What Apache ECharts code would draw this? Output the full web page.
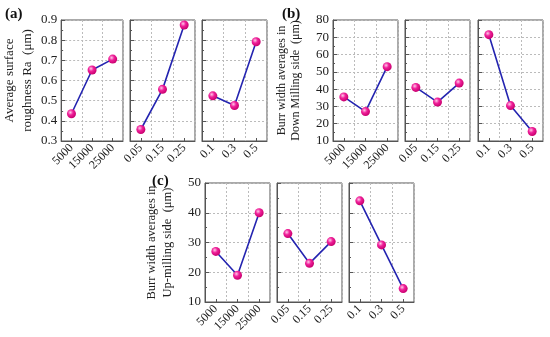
<!DOCTYPE html>
<html><head><meta charset="utf-8">
<script src="https://cdn.jsdelivr.net/npm/echarts@6/dist/echarts.min.js"></script>
<style>html,body{margin:0;padding:0;background:#fff}#c{width:550px;height:337px}</style>
</head><body><div id="c"></div>
<script>
var catsSpeed = ['5000', '15000', '25000'];
var catsFeed = ['0.05', '0.15', '0.25'];
var catsDepth = ['0.1', '0.3', '0.5'];

var raSpeed = [0.435, 0.652, 0.706];
var raFeed = [0.357, 0.556, 0.875];
var raDepth = [0.524, 0.476, 0.792];

var downSpeed = [35.5, 27.0, 53.0];
var downFeed = [41.0, 32.5, 43.5];
var downDepth = [71.5, 30.5, 15.5];

var upSpeed = [27.0, 19.0, 40.0];
var upFeed = [33.0, 23.0, 30.3];
var upDepth = [44.0, 29.2, 14.5];

var panels = [
  {label: '(a)', name: 'Average surface\nroughness Ra  (μm)', min: 0.3, max: 0.9, step: 0.1, dec: 1,
   top: 20, height: 121, lefts: [58, 130, 202], lx: 5, ly: 7, gap: 23, fs: 13, lh: 18,
   data: [raSpeed, raFeed, raDepth]},
  {label: '(b)', name: 'Burr width averages in\nDown Milling side  (μm)', min: 10, max: 80, step: 10, dec: 0,
   top: 20, height: 121, lefts: [333, 405, 478], lx: 282, ly: 7, gap: 30, fs: 12, lh: 14,
   data: [downSpeed, downFeed, downDepth]},
  {label: '(c)', name: 'Burr width averages in\nUp-milling side  (μm)', min: 10, max: 50, step: 10, dec: 0,
   top: 183, height: 119, lefts: [205, 277, 349], lx: 152, ly: 174, gap: 29, fs: 12.5, lh: 16,
   data: [upSpeed, upFeed, upDepth]}
];
var catsList = [catsSpeed, catsFeed, catsDepth];
var font = '"Liberation Serif", "Times New Roman", serif';
var grids = [], xAxes = [], yAxes = [], series = [], graphics = [];
var gi = 0;
panels.forEach(function (p) {
  graphics.push({type: 'text', left: p.lx, top: p.ly,
    style: {text: p.label, font: 'bold 15px "Liberation Serif", serif', fill: '#111'}});
  for (var k = 0; k < 3; k++) {
    grids.push({left: p.lefts[k], top: p.top, width: 65, height: p.height,
      show: true, borderColor: '#555', borderWidth: 1, backgroundColor: 'transparent'});
    xAxes.push({type: 'category', gridIndex: gi, data: catsList[k], boundaryGap: true,
      axisLine: {show: true, lineStyle: {color: '#555'}},
      axisTick: {show: true, inside: true, alignWithLabel: true, length: 3, lineStyle: {color: '#555'}},
      splitLine: {show: true, interval: 0, lineStyle: {color: '#bbb', type: [2, 2], width: 1}},
      axisLabel: {rotate: 45, fontFamily: font, fontSize: 12, color: '#222', margin: 5, interval: 0}});
    (function (pp, kk) {
      yAxes.push({type: 'value', gridIndex: gi, min: pp.min, max: pp.max, interval: pp.step,
        name: kk === 0 ? pp.name : '', nameLocation: 'middle', nameGap: pp.gap,
        nameTextStyle: {fontFamily: font, fontSize: pp.fs, color: '#222', lineHeight: pp.lh},
        axisLine: {show: true, lineStyle: {color: '#555'}},
        axisTick: {show: true, inside: true, length: 4, lineStyle: {color: '#555'}},
        minorTick: {show: true, splitNumber: 2, length: 2, lineStyle: {color: '#555'}},
        splitLine: {show: true, lineStyle: {color: '#bbb', type: [2, 2], width: 1}},
        axisLabel: {show: kk === 0, fontFamily: font, fontSize: 13, color: '#222', margin: 4,
          formatter: function (v) { return v.toFixed(pp.dec); }}});
    })(p, k);
    series.push({type: 'line', xAxisIndex: gi, yAxisIndex: gi, data: p.data[k],
      lineStyle: {color: '#2424b0', width: 1.6}, symbol: 'circle', symbolSize: 9,
      itemStyle: {color: {type: 'radial', x: 0.38, y: 0.35, r: 0.65,
        colorStops: [{offset: 0, color: '#ffc8e8'}, {offset: 0.45, color: '#f0209a'}, {offset: 1, color: '#c8006e'}]},
        borderWidth: 0},
      animation: false, z: 3});
    gi++;
  }
});
var chart = echarts.init(document.getElementById('c'), null, {renderer: 'canvas'});
chart.setOption({animation: false, grid: grids, xAxis: xAxes, yAxis: yAxes, series: series, graphic: graphics});
</script></body></html>
